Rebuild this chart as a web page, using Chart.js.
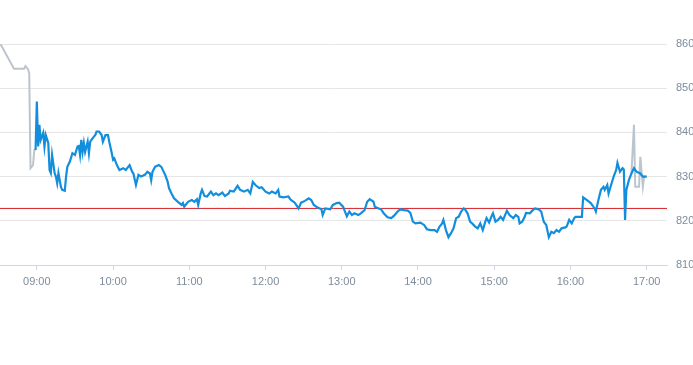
<!DOCTYPE html>
<html>
<head>
<meta charset="utf-8">
<script src="https://cdn.jsdelivr.net/npm/chart.js@4"></script>
<style>
  html, body { margin: 0; padding: 0; background: #fff; }
  canvas { display: block; }
</style>
</head>
<body>
<canvas id="intradayChart" width="693" height="365"></canvas>
<script>
// tick labels on the time axis
const xTickLabels = ['09:00', '10:00', '11:00', '12:00', '13:00', '14:00', '15:00', '16:00', '17:00'];
const xStart = '08:31';
const xEnd = '17:16';

// previous close (red reference line)
const prevClose = 822.8;

// pre-market (grey)
const preTimes = ['08:31', '08:42', '08:50', '08:51', '08:53', '08:54', '08:55', '08:57', '08:58', '08:59'];
const preValues = [860.2, 854.4, 854.4, 855.0, 854.3, 853.4, 831.9, 832.6, 836.0, 836.0];

// regular session (blue)
const sessionTimes = [
  '08:59', '09:00', '09:01', '09:02', '09:03', '09:05', '09:06', '09:07', '09:09', '09:10',
  '09:11', '09:12', '09:14', '09:15', '09:16', '09:17', '09:19', '09:20', '09:22', '09:23',
  '09:24', '09:26', '09:28', '09:30', '09:32', '09:33', '09:34', '09:35', '09:36', '09:37',
  '09:38', '09:40', '09:41', '09:42', '09:44', '09:46', '09:47', '09:49', '09:51', '09:52',
  '09:54', '09:56', '09:57', '09:59', '10:00', '10:01', '10:03', '10:05', '10:08', '10:10',
  '10:13', '10:15', '10:16', '10:18', '10:20', '10:22', '10:25', '10:27', '10:29', '10:30',
  '10:31', '10:33', '10:36', '10:38', '10:41', '10:43', '10:44', '10:46', '10:48', '10:51',
  '10:54', '10:55', '10:56', '10:59', '11:02', '11:04', '11:06', '11:07', '11:09', '11:10',
  '11:12', '11:14', '11:17', '11:19', '11:21', '11:23', '11:26', '11:28', '11:31', '11:32',
  '11:35', '11:38', '11:40', '11:43', '11:46', '11:48', '11:50', '11:52', '11:55', '11:57',
  '12:00', '12:03', '12:05', '12:08', '12:10', '12:11', '12:14', '12:18', '12:20', '12:23',
  '12:26', '12:28', '12:31', '12:34', '12:36', '12:38', '12:41', '12:44', '12:45', '12:47',
  '12:51', '12:53', '12:56', '12:58', '13:01', '13:04', '13:06', '13:08', '13:10', '13:13',
  '13:15', '13:18', '13:20', '13:22', '13:25', '13:26', '13:29', '13:31', '13:33', '13:36',
  '13:39', '13:41', '13:44', '13:46', '13:49', '13:52', '13:54', '13:56', '13:58', '14:02',
  '14:05', '14:07', '14:10', '14:13', '14:15', '14:17', '14:19', '14:20', '14:22', '14:24',
  '14:26', '14:28', '14:30', '14:32', '14:34', '14:36', '14:37', '14:39', '14:41', '14:43',
  '14:45', '14:47', '14:49', '14:51', '14:53', '14:54', '14:56', '14:58', '14:59', '15:01',
  '15:03', '15:05', '15:07', '15:10', '15:12', '15:15', '15:17', '15:19', '15:20', '15:22',
  '15:24', '15:25', '15:28', '15:30', '15:32', '15:35', '15:37', '15:39', '15:41', '15:43',
  '15:45', '15:47', '15:49', '15:51', '15:53', '15:56', '15:57', '15:59', '16:01', '16:03',
  '16:04', '16:07', '16:09', '16:10', '16:13', '16:16', '16:19', '16:20', '16:22', '16:24',
  '16:26', '16:27', '16:29', '16:30', '16:32', '16:34', '16:36', '16:37', '16:39', '16:41',
  '16:42', '16:43', '16:44', '16:46', '16:48', '16:50', '16:52', '16:55', '16:57', '17:00'
];
const sessionValues = [
  836.0, 847.0, 836.8, 841.7, 838.3, 839.9, 836.8, 839.4, 837.6, 831.5,
  830.8, 834.9, 830.8, 830.0, 828.5, 830.8, 827.6, 827.0, 826.8, 830.0,
  832.2, 833.4, 835.3, 834.9, 836.8, 836.9, 834.9, 838.3, 835.6, 837.6,
  835.6, 837.9, 835.3, 837.9, 838.7, 839.4, 840.2, 840.2, 839.4, 837.9,
  839.4, 839.4, 837.9, 835.3, 833.8, 834.1, 832.6, 831.5, 831.9, 831.5,
  832.6, 831.1, 830.7, 828.1, 830.4, 830.0, 830.4, 831.1, 830.7, 829.2,
  831.1, 832.2, 832.6, 832.2, 830.4, 828.8, 827.4, 826.2, 825.1, 824.3,
  823.6, 824.0, 823.2, 824.3, 824.7, 824.3, 824.9, 823.6, 826.2, 827.0,
  825.6, 825.5, 826.6, 825.8, 826.2, 825.8, 826.4, 825.6, 826.2, 826.8,
  826.6, 827.9, 827.0, 826.6, 827.0, 826.2, 828.8, 828.1, 827.4, 827.6,
  826.6, 826.2, 826.6, 826.2, 827.0, 825.5, 825.3, 825.5, 824.7, 824.1,
  822.8, 824.1, 824.5, 825.1, 824.7, 823.6, 823.0, 822.6, 821.3, 822.8,
  822.6, 823.6, 824.0, 824.1, 823.2, 821.0, 822.1, 821.3, 821.7, 821.3,
  821.7, 822.4, 824.3, 824.9, 824.3, 823.2, 822.8, 822.6, 821.7, 820.8,
  820.6, 821.1, 822.1, 822.6, 822.4, 822.3, 821.8, 819.8, 819.4, 819.6,
  819.0, 818.1, 817.9, 817.9, 817.5, 818.7, 819.4, 820.2, 817.9, 816.3,
  817.2, 818.3, 820.6, 820.9, 822.1, 822.8, 822.6, 821.7, 819.8, 819.3,
  818.7, 818.3, 819.4, 817.9, 819.8, 820.6, 819.6, 821.1, 821.7, 819.8,
  820.2, 820.9, 820.2, 822.3, 821.3, 820.6, 821.3, 820.9, 819.4, 819.8,
  820.9, 821.8, 821.7, 822.3, 822.8, 822.6, 822.1, 819.8, 819.0, 816.3,
  817.5, 817.2, 817.9, 817.5, 818.3, 818.5, 818.7, 820.2, 819.4, 820.6,
  820.9, 820.9, 820.9, 825.3, 824.7, 824.0, 822.8, 822.1, 824.7, 827.0,
  827.7, 827.0, 828.1, 826.2, 828.1, 830.0, 831.5, 833.1, 831.1, 831.9,
  831.6, 820.2, 827.0, 829.2, 830.7, 831.9, 831.1, 830.7, 830.0, 830.0
];

// after-hours (grey)
const postTimes = ['16:48', '16:50', '16:51', '16:54', '16:55', '16:57', '16:58', '17:00'];
const postValues = [830.7, 841.7, 827.7, 827.7, 834.5, 827.7, 830.0, 830.0];

function toMin(t) {
  const [h, m] = t.split(':').map(Number);
  return h * 60 + m;
}
function fmt(v) {
  const h = Math.floor(v / 60), m = Math.round(v % 60);
  return String(h).padStart(2, '0') + ':' + String(m).padStart(2, '0');
}
function points(times, values) {
  return times.map((t, i) => ({ x: toMin(t), y: values[i] }));
}

const labelColor = '#7d8c9c';
const labelFont = { family: '"Liberation Sans", Arial, sans-serif', size: 11 };
const xMin = toMin(xStart), xMax = toMin(xEnd);

const ctx = document.getElementById('intradayChart').getContext('2d');
const chart = new Chart(ctx, {
  type: 'line',
  data: {
    datasets: [
      {
        data: points(sessionTimes, sessionValues),
        borderColor: '#138edd',
        borderWidth: 2.2,
        pointRadius: 0,
        order: 0
      },
      {
        data: points(preTimes, preValues),
        borderColor: '#bcc5cd',
        borderWidth: 2,
        pointRadius: 0,
        order: 1
      },
      {
        data: points(postTimes, postValues),
        borderColor: '#bcc5cd',
        borderWidth: 2,
        pointRadius: 0,
        order: 1
      },
      {
        data: [{ x: xMin, y: prevClose }, { x: xMax, y: prevClose }],
        borderColor: '#d42026',
        borderWidth: 1,
        pointRadius: 0,
        order: 2
      }
    ]
  },
  options: {
    responsive: false,
    animation: false,
    layout: { padding: { top: 44, left: 0, right: 0, bottom: 0 } },
    plugins: { legend: { display: false }, tooltip: { enabled: false } },
    scales: {
      x: {
        type: 'linear',
        min: xMin,
        max: xMax,
        afterBuildTicks: s => { s.ticks = xTickLabels.map(l => ({ value: toMin(l) })); },
        afterFit: s => { s.height = 100; },
        ticks: { callback: v => fmt(v), color: labelColor, font: labelFont, padding: 5, maxRotation: 0, autoSkip: false },
        grid: { drawOnChartArea: false, drawTicks: true, tickLength: 5, color: '#ccd6eb' },
        border: { display: true, color: '#ccd6eb' }
      },
      y: {
        position: 'right',
        min: 810,
        max: 860,
        afterFit: s => { s.width = 26; },
        ticks: { stepSize: 10, color: labelColor, font: labelFont, padding: 9 },
        grid: { color: '#e6e6e6', drawTicks: false },
        border: { display: false }
      }
    }
  }
});
</script>
</body>
</html>
